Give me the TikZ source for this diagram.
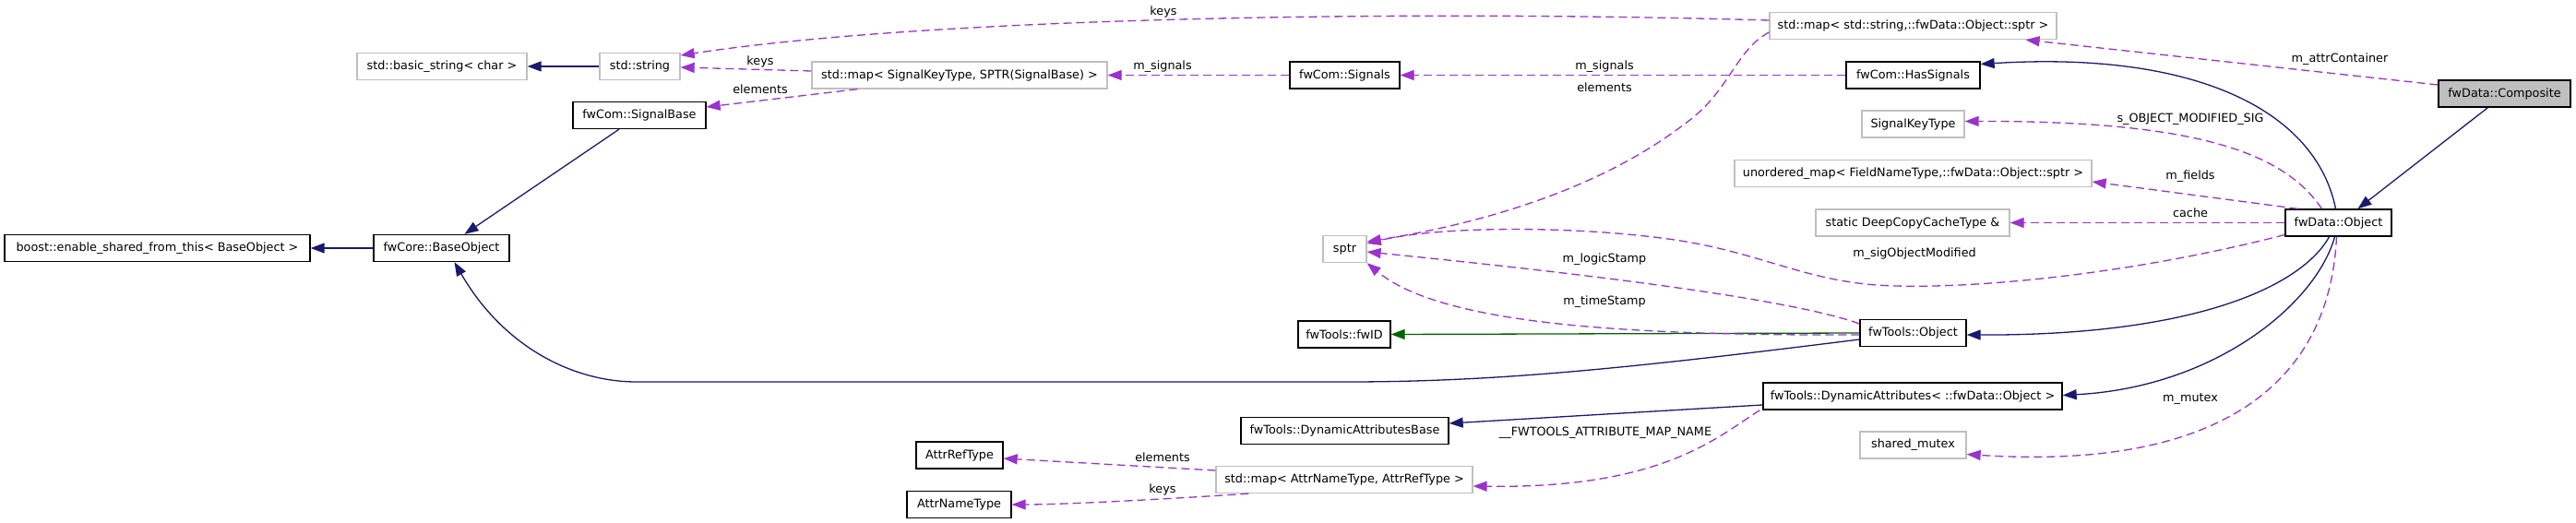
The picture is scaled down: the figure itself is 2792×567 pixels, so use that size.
\documentclass[tikz,border=0pt]{standalone}
\usepackage{fontspec}
\setmainfont{DejaVu Sans}
\usetikzlibrary{arrows.meta,calc}
\definecolor{inhblue}{RGB}{25,25,112}
\definecolor{usepurple}{RGB}{154,50,205}
\definecolor{pgreen}{RGB}{0,100,0}
\definecolor{extgray}{RGB}{191,191,191}
\begin{document}
\begin{tikzpicture}[x=1bp,y=-1bp,
  every node/.style={font=\fontsize{12.8bp}{15bp}\selectfont},
  box/.style={line width=1.3bp, minimum height=29bp, inner sep=0pt, anchor=center},
  cls/.style={box, draw=black},
  ext/.style={box, draw=extgray},
  tipx/.style={-{Triangle[length=15bp,width=11bp]}},
  inh/.style={draw=inhblue, line width=1.3bp, tipx},
  prot/.style={draw=pgreen, line width=1.3bp, tipx},
  use/.style={draw=usepurple, line width=1.3bp, dash pattern=on 9bp off 5bp, tipx},
  lbl/.style={inner sep=0pt, anchor=center}]
\useasboundingbox (0,0) rectangle (2792,567);
% nodes
\node[ext, minimum width=184bp] (bstr) at (479,72) {std::basic\_string< char >};
\node[ext, minimum width=87bp] (str) at (693.5,72) {std::string};
\node[ext, minimum width=320bp] (mapsig) at (1040,81.5) {std::map< SignalKeyType, SPTR(SignalBase) >};
\node[cls, minimum width=119bp] (signals) at (1457.5,81.5) {fwCom::Signals};
\node[cls, minimum width=145bp] (hassig) at (2073.5,81.5) {fwCom::HasSignals};
\node[ext, minimum width=311bp] (mapobj) at (2073.5,28) {std::map< std::string,::fwData::Object::sptr >};
\node[cls, fill=extgray, minimum width=143bp] (comp) at (2714.5,101.5) {fwData::Composite};
\node[cls, minimum width=144bp] (sigbase) at (693,125) {fwCom::SignalBase};
\node[ext, minimum width=111bp] (sigkey) at (2073.5,134.5) {SignalKeyType};
\node[ext, minimum width=387bp] (umap) at (2073.5,188) {unordered\_map< FieldNameType,::fwData::Object::sptr >};
\node[ext, minimum width=210bp] (deepcopy) at (2073,241.5) {static DeepCopyCacheType \&};
\node[cls, minimum width=115bp] (dobj) at (2534.5,241.5) {fwData::Object};
\node[cls, minimum width=331bp] (boost) at (170.5,269) {boost::enable\_shared\_from\_this< BaseObject >};
\node[cls, minimum width=147bp] (baseobj) at (478.5,269) {fwCore::BaseObject};
\node[ext, minimum width=47bp] (sptr) at (1457.5,270) {sptr};
\node[cls, minimum width=100bp] (fwid) at (1457,362.5) {fwTools::fwID};
\node[cls, minimum width=115bp] (tobj) at (2073.5,361) {fwTools::Object};
\node[cls, minimum width=225bp] (dab) at (1457.5,467) {fwTools::DynamicAttributesBase};
\node[cls, minimum width=324bp] (da) at (2073,429.5) {fwTools::DynamicAttributes< ::fwData::Object >};
\node[cls, minimum width=94bp] (attrref) at (1040,493.5) {AttrRefType};
\node[cls, minimum width=113bp] (attrname) at (1039.5,547) {AttrNameType};
\node[ext, minimum width=278bp] (mapattr) at (1457,520) {std::map< AttrNameType, AttrRefType >};
\node[ext, minimum width=115bp] (mutex) at (2073.5,482.5) {shared\_mutex};
% inheritance edges
\draw[inh] (str.west) -- (bstr.east);
\draw[inh] (baseobj.west) -- (boost.east);
\draw[inh] ($(sigbase.south)+(-22,0)$) -- ($(baseobj.north)+(25,0)$);
\draw[inh] ($(tobj.west)+(0,7)$) .. controls (1760,400) and (1620,414) .. (1460,414) -- (690,414) .. controls (620,414) and (545,375) .. ($(baseobj.south)+(14,0)$);
\draw[prot] (tobj.west) -- (fwid.east);
\draw[inh] ($(da.west)+(0,9.5)$) -- ($(dab.east)+(0,-8)$);
\draw[inh] ($(comp.south)+(-18,0)$) -- ($(dobj.north)+(21,0)$);
\draw[inh] ($(dobj.north)+(-3,0)$) .. controls (2510,120) and (2380,55) .. ($(hassig.east)+(0,-12)$);
\draw[inh] ($(dobj.south)+(-10,0)$) .. controls (2495,310) and (2380,364) .. ($(tobj.east)+(0,2)$);
\draw[inh] ($(dobj.south)+(-4,0)$) .. controls (2510,330) and (2400,420) .. ($(da.east)+(0,-1)$);
% usage edges
\draw[use] ($(dobj.south)+(-2,0)$) .. controls (2525,420) and (2400,510) .. ($(mutex.east)+(0,10)$);
\draw[use] ($(comp.west)+(0,-9.5)$) -- ($(mapobj.south)+(122,0)$);
\draw[use] ($(mapobj.west)+(0,-6)$) .. controls (1500,10) and (1000,20) .. ($(str.east)+(0,-12)$);
\draw[use] ($(mapobj.west)+(0,7)$) .. controls (1880,55) and (1875,100) .. (1825,135) .. controls (1740,200) and (1620,240) .. ($(sptr.east)+(0,-8)$);
\draw[use] ($(mapsig.west)+(0,-4.5)$) -- ($(str.east)+(0,1)$);
\draw[use] ($(mapsig.south west)+(50,0)$) -- ($(sigbase.east)+(0,-9)$);
\draw[use] (signals.west) -- (mapsig.east);
\draw[use] (hassig.west) -- (signals.east);
\draw[use] ($(dobj.north)+(-18,0)$) .. controls (2475,165) and (2380,131) .. ($(sigkey.east)+(0,-3)$);
\draw[use] ($(dobj.north)+(-44,0)$) -- ($(umap.east)+(0,9)$);
\draw[use] (dobj.west) -- (deepcopy.east);
\draw[use] ($(dobj.west)+(0,13)$) .. controls (2300,300) and (2120,315) .. (2034,309) .. controls (1950,303) and (1900,270) .. (1800,258) .. controls (1700,245) and (1560,245) .. ($(sptr.east)+(0,-6)$);
\draw[use] ($(tobj.west)+(0,-10)$) .. controls (1930,320) and (1650,290) .. ($(sptr.east)+(0,3)$);
\draw[use] ($(tobj.west)+(0,2)$) .. controls (1750,364) and (1560,350) .. (sptr.south east);
\draw[use] ($(da.south west)+(-3,0)$) .. controls (1860,475) and (1800,530) .. ($(mapattr.east)+(0,7)$);
\draw[use] ($(mapattr.west)+(0,-10)$) -- ($(attrref.east)+(0,3.5)$);
\draw[use] ($(mapattr.south west)+(36,0)$) .. controls (1250,542) and (1150,547) .. (attrname.east);
% labels
\node[lbl] (l1) at (1261,13) {keys};
\node[lbl] (l2) at (824,67) {keys};
\node[lbl] (l3) at (824,97) {elements};
\node[lbl] (l4) at (1260,72) {m\_signals};
\node[lbl] (l5) at (1739,72) {m\_signals};
\node[lbl] (l6) at (1739,95) {elements};
\node[lbl] (l7) at (2536,64) {m\_attrContainer};
\node[lbl] (l8) at (2374,129) {s\_OBJECT\_MODIFIED\_SIG};
\node[lbl] (l9) at (2374,191) {m\_fields};
\node[lbl] (l10) at (2374,231) {cache};
\node[lbl] (l11) at (2075,275) {m\_sigObjectModified};
\node[lbl] (l12) at (1739,281) {m\_logicStamp};
\node[lbl] (l13) at (1739,327) {m\_timeStamp};
\node[lbl] (l14) at (1740,469) {\_\_FWTOOLS\_ATTRIBUTE\_MAP\_NAME};
\node[lbl] (l15) at (2374,433) {m\_mutex};
\node[lbl] (l16) at (1260,496) {elements};
\node[lbl] (l17) at (1260,531) {keys};
\end{tikzpicture}
\end{document}
